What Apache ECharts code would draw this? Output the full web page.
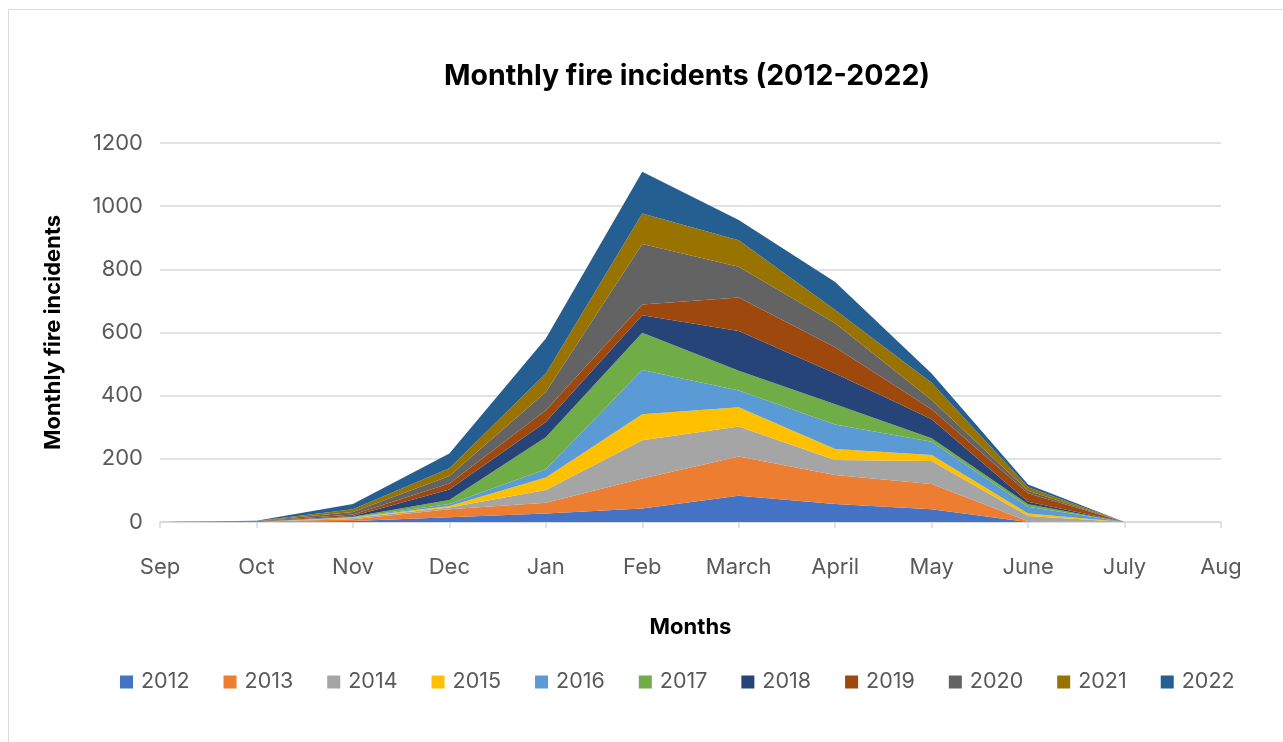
<!DOCTYPE html>
<html>
<head>
<meta charset="utf-8">
<script src="https://cdn.jsdelivr.net/npm/echarts@6/dist/echarts.min.js"></script>
<style>
  html, body { margin: 0; padding: 0; background: #fff; }
  #chart { width: 1283px; height: 742px; }
</style>
</head>
<body>
<div id="chart"></div>
<script>
const months = ["Sep", "Oct", "Nov", "Dec", "Jan", "Feb", "March", "April", "May", "June", "July", "Aug"];
const years = ["2012", "2013", "2014", "2015", "2016", "2017", "2018", "2019", "2020", "2021", "2022"];

// monthly incidents per season, Sep..Aug
const y2012 = [0, 0, 3, 15, 27, 43, 83, 57, 40, 0, 0, 0];
const y2013 = [0, 1, 6, 25, 34, 95, 124, 92, 80, 2, 0, 0];
const y2014 = [0, 0, 4, 6, 40, 121, 95, 47, 73, 17, 0, 0];
const y2015 = [0, 0, 1, 5, 40, 82, 61, 35, 19, 8, 0, 0];
const y2016 = [0, 0, 1, 6, 26, 140, 53, 78, 42, 21, 0, 0];
const y2017 = [0, 0, 2, 13, 101, 118, 63, 64, 11, 8, 0, 0];
const y2018 = [0, 0, 2, 33, 49, 56, 126, 97, 60, 8, 0, 0];
const y2019 = [0, 1, 5, 19, 37, 34, 106, 83, 32, 27, 0, 0];
const y2020 = [0, 1, 8, 24, 58, 191, 97, 76, 29, 8, 0, 0];
const y2021 = [0, 0, 8, 24, 58, 97, 84, 42, 55, 11, 0, 0];
const y2022 = [0, 1, 17, 47, 111, 132, 64, 89, 29, 9, 0, 0];

const seriesData = [y2012, y2013, y2014, y2015, y2016, y2017, y2018, y2019, y2020, y2021, y2022];
const colors = ["#4472C4", "#ED7D31", "#A5A5A5", "#FFC000", "#5B9BD5", "#70AD47",
                "#264478", "#9E480E", "#636363", "#997300", "#255E91"];

const chart = echarts.init(document.getElementById("chart"));

const option = {
  color: colors,
  textStyle: { fontFamily: "Inter" },
  animation: false,
  title: {
    text: "Monthly fire incidents (2012-2022)",
    left: 682,
    textAlign: "center",
    top: 57,
    textStyle: { fontSize: 28.5, fontWeight: "bold", color: "#000", fontFamily: "Inter" }
  },
  graphic: [{
    type: "rect",
    shape: { x: 8.5, y: 9.5, width: 1290, height: 760 },
    style: { fill: "none", stroke: "#d9d9d9", lineWidth: 1 },
    silent: true
  }],
  grid: { left: 160, right: 62, top: 143, bottom: 220 },
  legend: {
    bottom: 44,
    left: 115,
    itemWidth: 13,
    itemHeight: 13,
    itemGap: 34,
    icon: "rect",
    textStyle: { fontSize: 21.5, color: "#595959", fontFamily: "Inter", padding: [0, 0, 0, 3] },
    data: years
  },
  xAxis: {
    type: "category",
    data: months,
    boundaryGap: false,
    name: "Months",
    nameLocation: "middle",
    nameGap: 94,
    nameTextStyle: { fontSize: 22, fontWeight: "bold", color: "#000" },
    axisLine: { lineStyle: { color: "#d9d9d9", width: 1.5 } },
    axisTick: { show: true, length: 6, lineStyle: { color: "#d9d9d9", width: 1.5 } },
    axisLabel: { fontSize: 22, color: "#595959", margin: 34 }
  },
  yAxis: {
    type: "value",
    min: 0,
    max: 1200,
    interval: 200,
    name: "Monthly fire incidents",
    nameLocation: "middle",
    nameGap: 96,
    nameTextStyle: { fontSize: 22, fontWeight: "bold", color: "#000" },
    axisLine: { show: false },
    axisTick: { show: false },
    axisLabel: { fontSize: 22, color: "#595959", margin: 17, formatter: v => String(v) },
    splitLine: { lineStyle: { color: "#d9d9d9", width: 1.5 } }
  },
  series: seriesData.map((d, i) => ({
    name: years[i],
    type: "line",
    stack: "total",
    data: d,
    symbol: "none",
    lineStyle: { width: 0 },
    areaStyle: { opacity: 1, color: colors[i] },
    z: 2
  }))
};

chart.setOption(option);
</script>
</body>
</html>
